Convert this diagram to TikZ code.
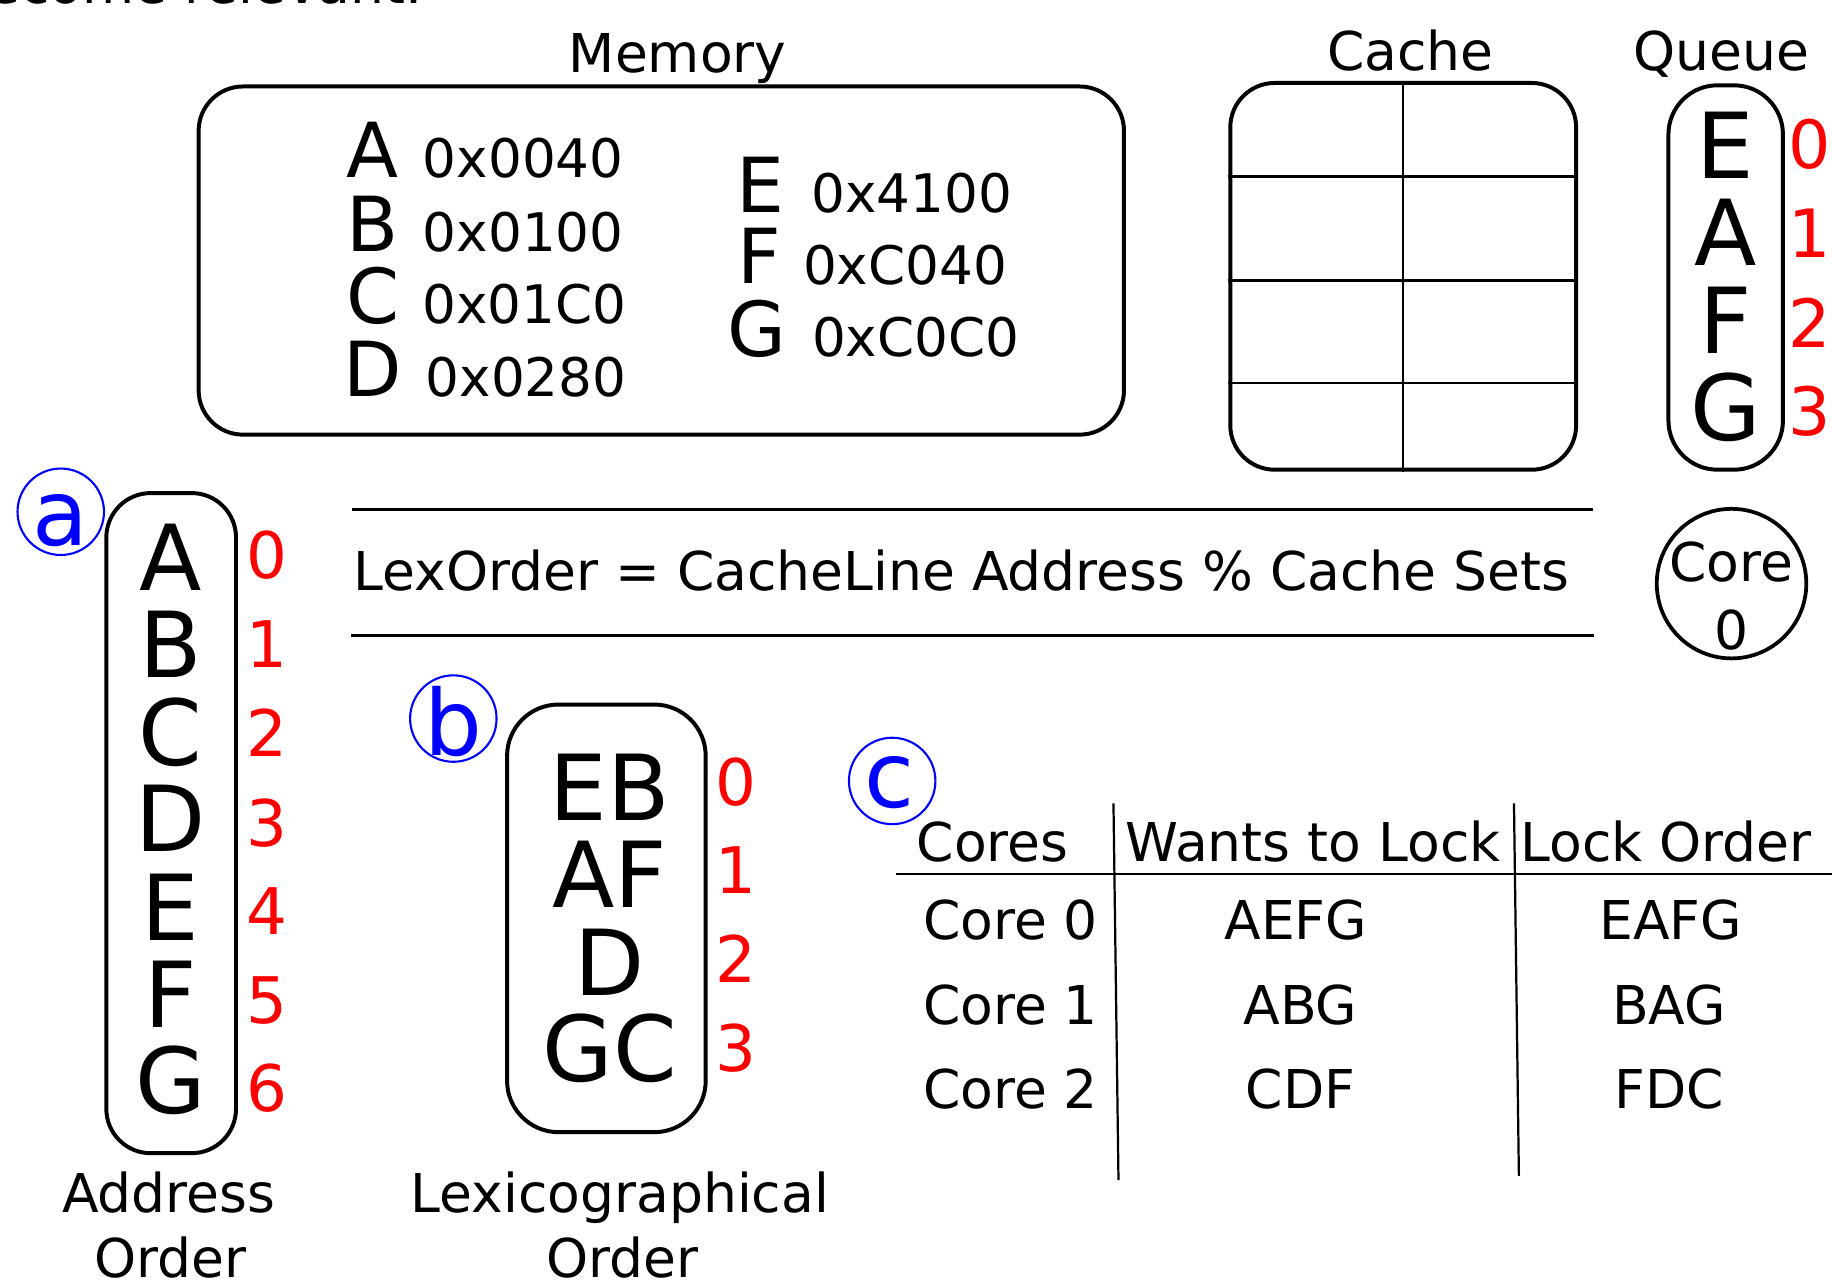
\documentclass[tikz,border=0pt]{standalone}
\usepackage{fontspec}
\setmainfont{DejaVu Sans}
\usetikzlibrary{calc}

\tikzset{
  txt/.style={inner sep=0pt, anchor=base, font=\fontsize{22.9pt}{27pt}\selectfont},
  hexval/.style={inner sep=0pt, anchor=base west, font=\fontsize{22.75pt}{27pt}\selectfont},
  memlet/.style={inner sep=0pt, anchor=base, font=\fontsize{32.5pt}{38pt}\selectfont},
  biglet/.style={inner sep=0pt, anchor=base, font=\fontsize{39pt}{45pt}\selectfont},
  idx/.style={inner sep=0pt, anchor=base, text=red, font=\fontsize{27.5pt}{32pt}\selectfont},
  qidx/.style={idx, font=\fontsize{28.5pt}{32pt}\selectfont},
  tag/.style={circle, draw=blue, line width=0.9pt, minimum size=37pt, inner sep=0pt},
  taglet/.style={inner sep=0pt, anchor=base, text=blue, font=\fontsize{39pt}{45pt}\selectfont},
  frame/.style={draw, line width=1.7pt, rounded corners=19pt, inner sep=0pt},
  rulel/.style={line width=1.3pt},
  gridl/.style={line width=0.95pt},
}

\begin{document}
\begin{tikzpicture}[x=0.5pt, y=-0.5pt]
\useasboundingbox (0,0) rectangle (1568,1100);

% running text cut by the top edge
\node[txt, anchor=base east] (intro) at (362,3) {become relevant.};

% ---------- memory ----------
\node[txt] (memlbl) at (580,62) {Memory};
\node[frame, minimum width=396pt, minimum height=149pt] (mem) at (566,223) {};
\node[memlet] (mA) at (319,152) {A};
\node[memlet] (mB) at (319,215) {B};
\node[memlet] (mC) at (319,277) {C};
\node[memlet] (mD) at (319,339) {D};
\node[hexval] (hA) at (361.6,152) {0x0040};
\node[hexval] (hB) at (361.6,215) {0x0100};
\node[hexval] (hC) at (361,277) {0x01C0};
\node[hexval] (hD) at (364,339) {0x0280};
\node[memlet] (mE) at (651,181.5) {E};
\node[memlet] (mF) at (650,243) {F};
\node[memlet] (mG) at (648,305) {G};
\node[hexval] (hE) at (694,181.5) {0x4100};
\node[hexval] (hF) at (687,243.5) {0xC040};
\node[hexval] (hG) at (694.6,305) {0xC0C0};

% ---------- cache ----------
\node[txt] (cachelbl) at (1207,60.5) {Cache};
\node[frame, minimum width=148pt, minimum height=165.5pt] (cache) at (1201,236.5) {};
\draw[gridl] (cache.north) -- (cache.south);
\foreach \f in {0.2447,0.5106,0.7734}
  \draw[gridl] ($(cache.north west)!\f!(cache.south west)$) -- ($(cache.north east)!\f!(cache.south east)$);

% ---------- queue ----------
\node[txt] (queuelbl) at (1473,60) {Queue};
\node[frame, rounded corners=21pt, minimum width=49pt, minimum height=164.5pt] (queue) at (1477,237.5) {};
\node[biglet] (qE) at (1477,152.5) {E};
\node[biglet] (qA) at (1477,227.5) {A};
\node[biglet] (qF) at (1477,302.5) {F};
\node[biglet] (qG) at (1477,377) {G};
\node[qidx] (q0) at (1549,144.5) {0};
\node[qidx] (q1) at (1549,220.5) {1};
\node[qidx] (q2) at (1549,297) {2};
\node[qidx] (q3) at (1549,373) {3};

% ---------- core ----------
\node[draw, circle, line width=1.6pt, minimum size=64pt, inner sep=0pt] (core) at (1482,499.5) {};
\node[txt] (corel1) at (1482,498) {Core};
\node[txt] (corel2) at (1482,556) {0};

% ---------- formula ----------
\coordinate (ftl) at (301,435.7);
\coordinate (ftr) at (1363.5,435.7);
\coordinate (fbl) at (300,543.8);
\coordinate (fbr) at (1364,543.8);
\draw[rulel] (ftl) -- (ftr);
\draw[rulel] (fbl) -- (fbr);
\node[txt] (formula) at (823,505.8) {LexOrder = CacheLine Address \% Cache Sets};

% ---------- (a) address order ----------
\node[tag] (taga) at (52,438) {};
\node[taglet] (tagal) at (52,467) {a};
\node[frame, minimum width=55.5pt, minimum height=282.5pt] (addr) at (146.5,704.5) {};
\foreach \l/\y in {A/505,B/580,C/655,D/729,E/805,F/879,G/953}
  \node[biglet] (a\l) at (146,\y) {\l};
\foreach \n/\y in {0/495,1/571,2/647.6,3/724.7,4/799.5,5/875.6,6/951.7}
  \node[idx] (ai\n) at (228.7,\y) {\n};
\node[txt] (addrlbl1) at (144.5,1038) {Address};
\node[txt] (addrlbl2) at (146,1093) {Order};

% ---------- (b) lexicographical order ----------
\node[tag] (tagb) at (388,615) {};
\node[taglet] (tagbl) at (388,647) {b};
\node[frame, rounded corners=22pt, minimum width=85pt, minimum height=183pt] (lex) at (519,786) {};
\node[biglet] (lEB) at (522,702.5) {EB};
\node[biglet] (lAF) at (522,777) {AF};
\node[biglet] (lD) at (522,851.8) {D};
\node[biglet] (lGC) at (522,926) {GC};
\foreach \n/\y in {0/689,1/765,2/840.5,3/917}
  \node[idx] (bi\n) at (630,\y) {\n};
\node[txt] (lexlbl1) at (530.5,1038) {Lexicographical};
\node[txt] (lexlbl2) at (533,1093) {Order};

% ---------- (c) lock table ----------
\node[tag] (tagc) at (763.6,668.4) {};
\node[taglet] (tagcl) at (761,691) {c};
\coordinate (v1t) at (953,687.6);
\coordinate (v1b) at (957.3,1010);
\coordinate (v2t) at (1295.8,687.6);
\coordinate (v2b) at (1300,1006.5);
\coordinate (hl) at (766.6,748.3);
\coordinate (hr) at (1572,748.3);
\draw[gridl] (v1t) -- (v1b);
\draw[gridl] (v2t) -- (v2b);
\draw[gridl] (hl) -- (hr);
\node[txt] (th1) at (849.5,737.5) {Cores};
\node[txt] (th2) at (1123.8,737.5) {Wants to Lock};
\node[txt] (th3) at (1426,737) {Lock Order};
\node[txt] (r0c) at (865,804.5) {Core 0};
\node[txt] (r0w) at (1109,804.5) {AEFG};
\node[txt] (r0o) at (1430,804.5) {EAFG};
\node[txt] (r1c) at (865,877) {Core 1};
\node[txt] (r1w) at (1113,877) {ABG};
\node[txt] (r1o) at (1428.6,877) {BAG};
\node[txt] (r2c) at (865,949) {Core 2};
\node[txt] (r2w) at (1113,949) {CDF};
\node[txt] (r2o) at (1429,949) {FDC};
\end{tikzpicture}
\end{document}
